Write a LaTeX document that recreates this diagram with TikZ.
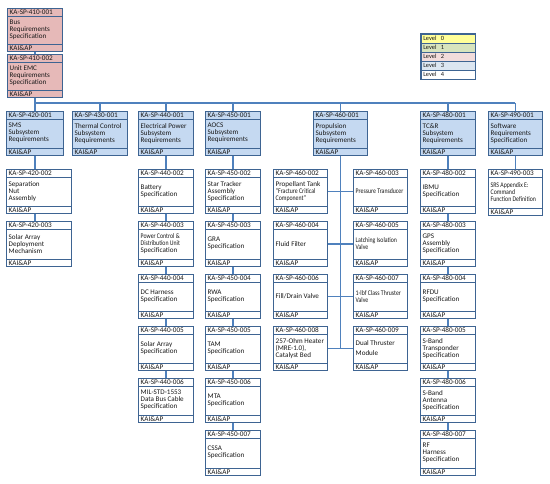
\documentclass[tikz,border=0pt]{standalone}
\usepackage{graphicx}
\usepackage{fontspec}
\setmainfont{Carlito}
\definecolor{edge}{RGB}{62,100,146}
\definecolor{wire}{RGB}{79,129,189}
\definecolor{lvzero}{RGB}{255,255,153}
\definecolor{lvone}{RGB}{215,228,189}
\definecolor{lvtwo}{RGB}{242,220,219}
\definecolor{lvthree}{RGB}{220,230,241}
\definecolor{pinkbox}{RGB}{230,185,184}
\definecolor{bluebox}{RGB}{197,217,241}
\definecolor{ink}{RGB}{25,25,25}
\newcommand\cnd[1]{\scalebox{0.82}[1]{#1}}
\tikzset{
 docbox/.style={draw=edge, line width=1.1pt, rectangle, inner sep=0pt, anchor=north west},
 sepline/.style={draw=edge, line width=0.7pt},
 wirel/.style={draw=wire, line width=1.3pt},
 txt/.style={inner sep=0pt, anchor=west, text=ink, font=\fontsize{7.2}{7.2}\selectfont},
 bodytxt/.style={inner sep=0pt, anchor=west, align=left, text=ink, font=\fontsize{7.1}{7}\selectfont},
 legrow/.style={draw=edge, line width=0.6pt, anchor=north west, minimum width=54pt, minimum height=9pt, inner sep=0pt, text width=50pt, align=left, text=ink, font=\fontsize{6.4}{6.4}\selectfont},
}
% #1 name, #2 x, #3 y, #4 width, #5 height, #6 fill, #7 id, #8 body
\newcommand\spbox[8]{%
 \node[docbox, fill=#6, minimum width=#4pt, minimum height=#5pt] (#1) at (#2,#3) {};
 \draw[sepline] ([yshift=-8.5pt]#1.north west) -- ([yshift=-8.5pt]#1.north east);
 \draw[sepline] ([yshift=8pt]#1.south west) -- ([yshift=8pt]#1.south east);
 \node[txt] (#1-id) at ([xshift=2.5pt,yshift=-4.4pt]#1.north west) {#7};
 \node[txt] (#1-org) at ([xshift=2.5pt,yshift=3.9pt]#1.south west) {KAI\&AP};
 \node[bodytxt] (#1-body) at ([xshift=2.5pt,yshift=0.3pt]#1.west) {#8};
}
\begin{document}
\begin{tikzpicture}[x=1pt,y=-1pt]
\fill[white] (0,0) rectangle (550,484);
\useasboundingbox (0,0) rectangle (550,484);

% legend
\node[legrow, fill=lvzero] (lg0) at (421,34) {Level\ \ 0};
\node[legrow, fill=lvone] (lg1) at (421,43) {Level\ \ 1};
\node[legrow, fill=lvtwo] (lg2) at (421,52) {Level\ \ 2};
\node[legrow, fill=lvthree] (lg3) at (421,61) {Level\ \ 3};
\node[legrow, fill=white] (lg4) at (421,70) {Level\ \ 4};
\draw[draw=edge, line width=1.1pt] (lg0.north west) rectangle (lg4.south east);

% level 2
\spbox{n4101}{7}{8}{55}{43}{pinkbox}{KA-SP-410-001}{Bus\\Requirements\\Specification}
\spbox{n4102}{7}{54}{55}{43}{pinkbox}{KA-SP-410-002}{Unit EMC\\Requirements\\Specification}

% level 3
\spbox{n4201}{6}{111}{57}{44}{bluebox}{KA-SP-420-001}{SMS\\Subsystem\\Requirements}
\spbox{n4301}{72}{111}{55}{44}{bluebox}{KA-SP-430-001}{Thermal Control\\Subsystem\\Requirements}
\spbox{n4401}{138}{111}{55}{44}{bluebox}{KA-SP-440-001}{Electrical Power\\Subsystem\\Requirements}
\spbox{n4501}{205}{111}{55}{44}{bluebox}{KA-SP-450-001}{AOCS\\Subsystem\\Requirements}
\spbox{n4601}{313}{111}{54}{44}{bluebox}{KA-SP-460-001}{Propulsion\\Subsystem\\Requirements}
\spbox{n4801}{420}{111}{55}{44}{bluebox}{KA-SP-480-001}{TC\&R\\Subsystem\\Requirements}
\spbox{n4901}{488}{111}{54}{44}{bluebox}{KA-SP-490-001}{Software\\Requirements\\Specification}

% 420 column
\spbox{n4202}{6}{169}{65}{44}{white}{KA-SP-420-002}{Separation\\Nut\\Assembly}
\spbox{n4203}{6}{221}{65}{45}{white}{KA-SP-420-003}{Solar Array\\Deployment\\Mechanism}

% 440 column
\spbox{n4402}{138}{169}{55}{44}{white}{KA-SP-440-002}{Battery\\Specification}
\spbox{n4403}{138}{221}{55}{45}{white}{KA-SP-440-003}{\cnd{Power Control \&}\\\cnd{Distribution Unit}\\Specification}
\spbox{n4404}{138}{274}{55}{44}{white}{KA-SP-440-004}{DC Harness\\Specification}
\spbox{n4405}{138}{326}{55}{44}{white}{KA-SP-440-005}{Solar Array\\Specification}
\spbox{n4406}{138}{378}{55}{44}{white}{KA-SP-440-006}{MIL-STD-1553\\Data Bus Cable\\Specification}

% 450 column
\spbox{n4502}{205}{169}{55}{44}{white}{KA-SP-450-002}{Star Tracker\\Assembly\\Specification}
\spbox{n4503}{205}{221}{55}{45}{white}{KA-SP-450-003}{GRA\\Specification}
\spbox{n4504}{205}{274}{55}{44}{white}{KA-SP-450-004}{RWA\\Specification}
\spbox{n4505}{205}{326}{55}{44}{white}{KA-SP-450-005}{TAM\\Specification}
\spbox{n4506}{205}{378}{55}{44}{white}{KA-SP-450-006}{MTA\\Specification}
\spbox{n4507}{205}{430}{55}{45}{white}{KA-SP-450-007}{CSSA\\Specification}

% 460 column
\spbox{n4602}{273}{169}{54}{44}{white}{KA-SP-460-002}{Propellant Tank\\\cnd{``Fracture Critical}\\\cnd{Component''}}
\spbox{n4603}{353}{169}{54}{44}{white}{KA-SP-460-003}{\cnd{Pressure Transducer}}
\spbox{n4604}{273}{221}{54}{45}{white}{KA-SP-460-004}{Fluid Filter}
\spbox{n4605}{353}{221}{54}{45}{white}{KA-SP-460-005}{\cnd{Latching Isolation}\\\cnd{Valve}}
\spbox{n4606}{273}{274}{54}{44}{white}{KA-SP-460-006}{Fill/Drain Valve}
\spbox{n4607}{353}{274}{54}{44}{white}{KA-SP-460-007}{\cnd{1-lbf Class Thruster}\\\cnd{Valve}}
\spbox{n4608}{273}{326}{54}{44}{white}{KA-SP-460-008}{257-Ohm Heater\\(MRE-1.0),\\Catalyst Bed}
\spbox{n4609}{353}{326}{54}{44}{white}{KA-SP-460-009}{Dual Thruster\\[3pt]Module}

% 480 column
\spbox{n4802}{420}{169}{55}{44}{white}{KA-SP-480-002}{IBMU\\Specification}
\spbox{n4803}{420}{221}{55}{45}{white}{KA-SP-480-003}{GPS\\Assembly\\Specification}
\spbox{n4804}{420}{274}{55}{44}{white}{KA-SP-480-004}{RFDU\\Specification}
\spbox{n4805}{420}{326}{55}{44}{white}{KA-SP-480-005}{S-Band\\Transponder\\Specification}
\spbox{n4806}{420}{378}{55}{44}{white}{KA-SP-480-006}{S-Band\\Antenna\\Specification}
\spbox{n4807}{420}{430}{55}{45}{white}{KA-SP-480-007}{RF\\Harness\\Specification}

% 490 column
\spbox{n4903}{488}{169}{54}{46}{white}{KA-SP-490-003}{\cnd{SRS Appendix E:}\\\cnd{Command}\\\cnd{Function Definition}}

% connectors
\coordinate (busL) at (34.5,103);
\coordinate (busR) at (515,103);
\begin{scope}[wirel]
\draw (n4101.south) -- (n4102.north);
\draw (n4102.south) -- (n4201.north);
\draw (busL) -- (busR);
\foreach \b in {n4301,n4401,n4501,n4601,n4801,n4901}
  \draw (\b.north) -- (\b.north |- busL);
\draw (n4201.south) -- (n4201.south |- n4202.north);
\draw (n4202.south -| n4201.south) -- (n4203.north -| n4201.south);
\draw (n4401.south) -- (n4402.north);
\draw (n4402.south) -- (n4403.north);
\draw (n4403.south) -- (n4404.north);
\draw (n4404.south) -- (n4405.north);
\draw (n4405.south) -- (n4406.north);
\draw (n4501.south) -- (n4502.north);
\draw (n4502.south) -- (n4503.north);
\draw (n4503.south) -- (n4504.north);
\draw (n4504.south) -- (n4505.north);
\draw (n4505.south) -- (n4506.north);
\draw (n4506.south) -- (n4507.north);
\draw (n4601.south) -- (n4601.south |- n4608.east);
\draw (n4602.east) -- (n4603.west);
\draw (n4604.east) -- (n4605.west);
\draw (n4606.east) -- (n4607.west);
\draw (n4608.east) -- (n4609.west);
\draw (n4801.south) -- (n4802.north);
\draw (n4802.south) -- (n4803.north);
\draw (n4803.south) -- (n4804.north);
\draw (n4804.south) -- (n4805.north);
\draw (n4805.south) -- (n4806.north);
\draw (n4806.south) -- (n4807.north);
\draw (n4901.south) -- (n4903.north);
\end{scope}
\end{tikzpicture}
\end{document}
